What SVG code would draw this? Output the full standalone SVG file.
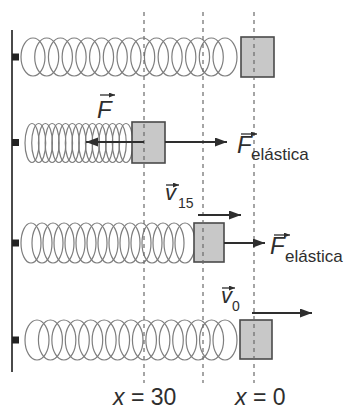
<svg xmlns="http://www.w3.org/2000/svg" width="345" height="412" viewBox="0 0 345 412">
<defs>
<style>
.sp{fill:none;stroke:#7e7e7e;stroke-width:1.2}
.blk{fill:#c8c8c8;stroke:#4a4a4a;stroke-width:1.6}
.dash{stroke:#6a6a6a;stroke-width:1.2;stroke-dasharray:4 4;fill:none}
.arr{stroke:#2e2e2e;stroke-width:2;fill:none;marker-end:url(#ah)}
.varr{stroke:#2e2e2e;stroke-width:1.3;fill:none;marker-end:url(#ahs)}
.t{font-family:"Liberation Sans",Arial,sans-serif;fill:#2e2e2e}
.i{font-style:italic}
.att{fill:#222}
</style>
<marker id="ah" markerUnits="userSpaceOnUse" markerWidth="13" markerHeight="10" refX="12" refY="4.5" orient="auto"><path d="M0,0 L12,4.5 L0,9 z" fill="#2e2e2e"/></marker>
<marker id="ahs" markerUnits="userSpaceOnUse" markerWidth="7" markerHeight="6" refX="6" refY="2.5" orient="auto"><path d="M0,0 L6,2.5 L0,5 z" fill="#2e2e2e"/></marker>
</defs>
<rect width="345" height="412" fill="#ffffff"/>
<g id="wall">
<line x1="12" y1="30" x2="12" y2="372" stroke="#4a4a4a" stroke-width="2"/>
<rect class="att" x="12" y="53.5" width="7" height="7"/>
<rect class="att" x="12" y="139" width="7" height="7"/>
<rect class="att" x="12" y="239.5" width="7" height="7"/>
<rect class="att" x="12" y="336.5" width="7" height="7"/>
</g>
<g id="row1">
<g class="sp">
<ellipse cx="33" cy="57" rx="12" ry="19"/><ellipse cx="46.71" cy="57" rx="12" ry="19"/><ellipse cx="60.43" cy="57" rx="12" ry="19"/><ellipse cx="74.14" cy="57" rx="12" ry="19"/><ellipse cx="87.86" cy="57" rx="12" ry="19"/><ellipse cx="101.57" cy="57" rx="12" ry="19"/><ellipse cx="115.29" cy="57" rx="12" ry="19"/><ellipse cx="129" cy="57" rx="12" ry="19"/><ellipse cx="142.71" cy="57" rx="12" ry="19"/><ellipse cx="156.43" cy="57" rx="12" ry="19"/><ellipse cx="170.14" cy="57" rx="12" ry="19"/><ellipse cx="183.86" cy="57" rx="12" ry="19"/><ellipse cx="197.57" cy="57" rx="12" ry="19"/><ellipse cx="211.29" cy="57" rx="12" ry="19"/><ellipse cx="225" cy="57" rx="12" ry="19"/>
</g>
<rect class="blk" x="241" y="37" width="33" height="40"/>
</g>
<g id="row2">
<g class="sp">
<ellipse cx="32" cy="143" rx="7" ry="19.5"/><ellipse cx="38.71" cy="143" rx="7" ry="19.5"/><ellipse cx="45.43" cy="143" rx="7" ry="19.5"/><ellipse cx="52.14" cy="143" rx="7" ry="19.5"/><ellipse cx="58.86" cy="143" rx="7" ry="19.5"/><ellipse cx="65.57" cy="143" rx="7" ry="19.5"/><ellipse cx="72.29" cy="143" rx="7" ry="19.5"/><ellipse cx="79" cy="143" rx="7" ry="19.5"/><ellipse cx="85.71" cy="143" rx="7" ry="19.5"/><ellipse cx="92.43" cy="143" rx="7" ry="19.5"/><ellipse cx="99.14" cy="143" rx="7" ry="19.5"/><ellipse cx="105.86" cy="143" rx="7" ry="19.5"/><ellipse cx="112.57" cy="143" rx="7" ry="19.5"/><ellipse cx="119.29" cy="143" rx="7" ry="19.5"/><ellipse cx="126" cy="143" rx="7" ry="19.5"/>
</g>
<rect class="blk" x="132" y="122" width="33" height="41"/>
</g>
<g id="row3">
<g class="sp">
<ellipse cx="31" cy="243" rx="10" ry="20"/><ellipse cx="42" cy="243" rx="10" ry="20"/><ellipse cx="53" cy="243" rx="10" ry="20"/><ellipse cx="64" cy="243" rx="10" ry="20"/><ellipse cx="75" cy="243" rx="10" ry="20"/><ellipse cx="86" cy="243" rx="10" ry="20"/><ellipse cx="97" cy="243" rx="10" ry="20"/><ellipse cx="108" cy="243" rx="10" ry="20"/><ellipse cx="119" cy="243" rx="10" ry="20"/><ellipse cx="130" cy="243" rx="10" ry="20"/><ellipse cx="141" cy="243" rx="10" ry="20"/><ellipse cx="152" cy="243" rx="10" ry="20"/><ellipse cx="163" cy="243" rx="10" ry="20"/><ellipse cx="174" cy="243" rx="10" ry="20"/><ellipse cx="185" cy="243" rx="10" ry="20"/>
</g>
<rect class="blk" x="194" y="223" width="30" height="39"/>
</g>
<g id="row4">
<g class="sp">
<ellipse cx="37" cy="340" rx="12" ry="20"/><ellipse cx="50.43" cy="340" rx="12" ry="20"/><ellipse cx="63.86" cy="340" rx="12" ry="20"/><ellipse cx="77.29" cy="340" rx="12" ry="20"/><ellipse cx="90.71" cy="340" rx="12" ry="20"/><ellipse cx="104.14" cy="340" rx="12" ry="20"/><ellipse cx="117.57" cy="340" rx="12" ry="20"/><ellipse cx="131" cy="340" rx="12" ry="20"/><ellipse cx="144.43" cy="340" rx="12" ry="20"/><ellipse cx="157.86" cy="340" rx="12" ry="20"/><ellipse cx="171.29" cy="340" rx="12" ry="20"/><ellipse cx="184.71" cy="340" rx="12" ry="20"/><ellipse cx="198.14" cy="340" rx="12" ry="20"/><ellipse cx="211.57" cy="340" rx="12" ry="20"/><ellipse cx="225" cy="340" rx="12" ry="20"/>
</g>
<rect class="blk" x="240" y="320" width="32" height="39"/>
</g>
<g id="reference-lines">
<line class="dash" x1="144" y1="12" x2="144" y2="383"/>
<line class="dash" x1="203" y1="12" x2="203" y2="383"/>
<line class="dash" x1="254" y1="12" x2="254" y2="383"/>
</g>
<g id="connectors">
<line class="arr" x1="144" y1="142" x2="86" y2="142"/>
<line class="arr" x1="165" y1="142" x2="227" y2="142"/>
<line class="arr" x1="198" y1="215" x2="241" y2="215"/>
<line class="arr" x1="224" y1="243" x2="265" y2="243"/>
<line class="arr" x1="252" y1="313" x2="312" y2="313"/>
</g>
<g id="labels">
<line class="varr" x1="100" y1="95" x2="115" y2="95"/>
<text class="t i" x="97" y="118" font-size="24">F</text>
<line class="varr" x1="241" y1="134" x2="257" y2="134"/>
<text class="t i" x="237" y="153" font-size="24">F</text>
<text class="t" x="251" y="160" font-size="17">elástica</text>
<line class="varr" x1="166" y1="185" x2="179" y2="185"/>
<text class="t i" x="165" y="200" font-size="22">v</text>
<text class="t" x="178" y="208" font-size="14">15</text>
<line class="varr" x1="274" y1="235" x2="290" y2="235"/>
<text class="t i" x="270" y="254" font-size="24">F</text>
<text class="t" x="285" y="262" font-size="17">elástica</text>
<line class="varr" x1="222" y1="288" x2="235" y2="288"/>
<text class="t i" x="221" y="303" font-size="22">v</text>
<text class="t" x="232" y="311" font-size="14">0</text>
<text class="t" x="113" y="405" font-size="23"><tspan class="i">x</tspan> = 30</text>
<text class="t" x="235" y="405" font-size="23"><tspan class="i">x</tspan> = 0</text>
</g>
</svg>
